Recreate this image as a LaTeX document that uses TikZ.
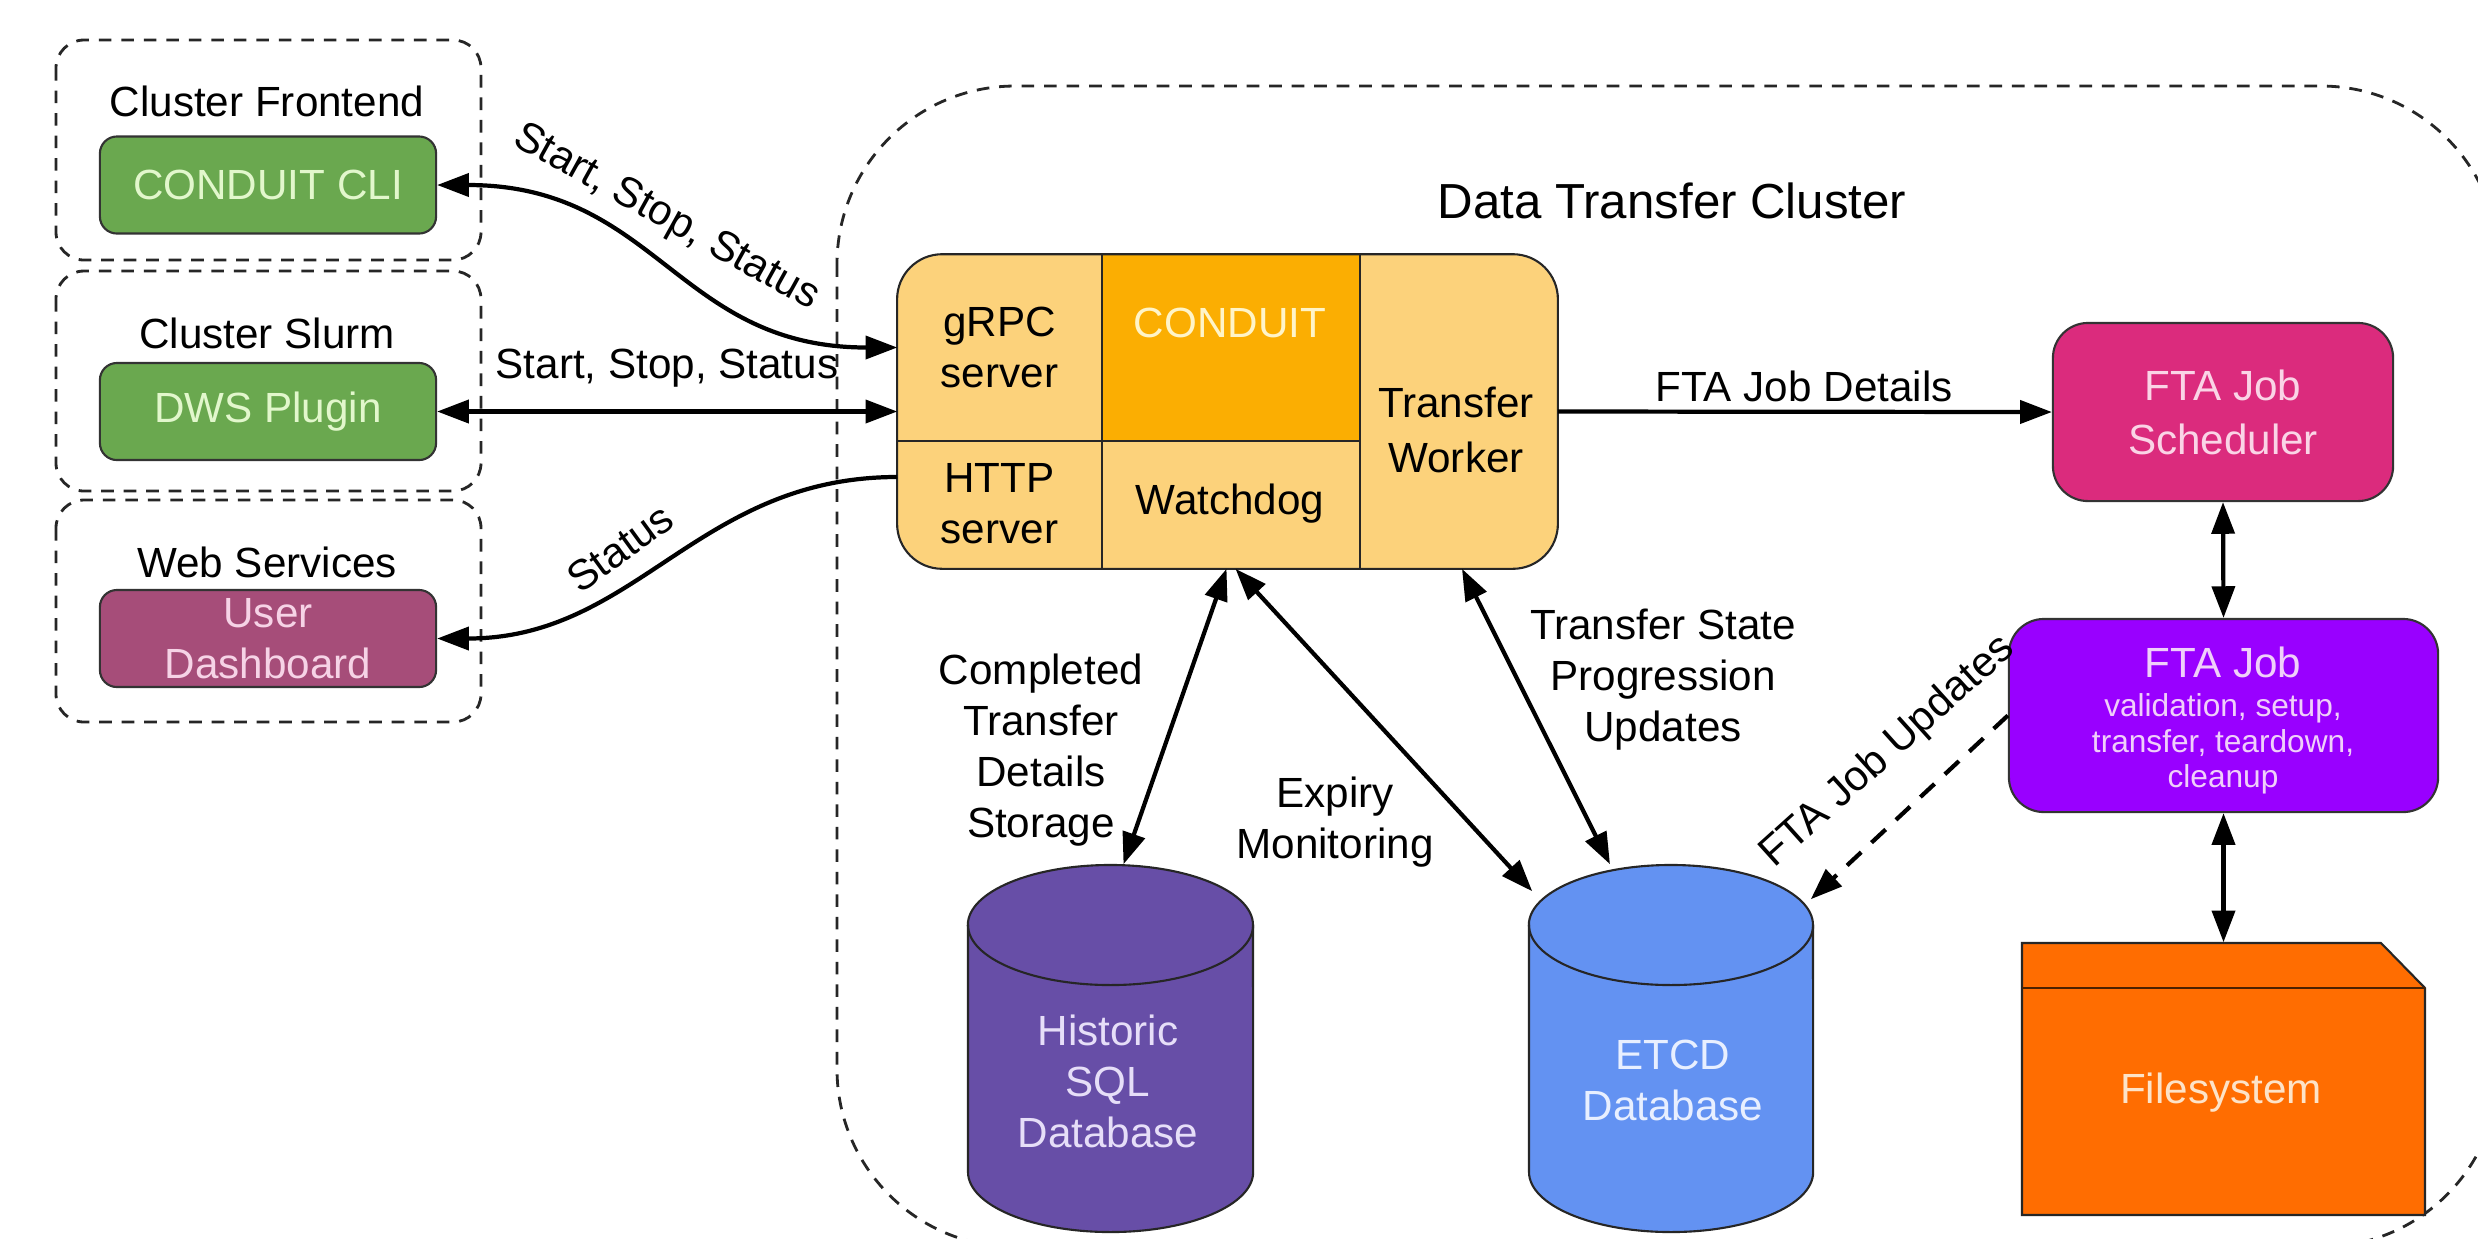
\documentclass[tikz,border=0pt]{standalone}
\usepackage{fontspec}
\setmainfont{Liberation Sans}
\usetikzlibrary{arrows.meta}
\definecolor{grnF}{HTML}{6AA84F}
\definecolor{grnT}{HTML}{E2F7CC}
\definecolor{dashF}{HTML}{A64D79}
\definecolor{dashT}{HTML}{F6D3E6}
\definecolor{coreF}{HTML}{FCD27B}
\definecolor{condF}{HTML}{FBAE02}
\definecolor{condT}{HTML}{FFF4C8}
\definecolor{schedF}{HTML}{DB2B7D}
\definecolor{schedT}{HTML}{FAD4E6}
\definecolor{jobF}{HTML}{9900FF}
\definecolor{jobT}{HTML}{F0CFFA}
\definecolor{histF}{HTML}{674EA7}
\definecolor{histT}{HTML}{E6DEF8}
\definecolor{etcdF}{HTML}{6392F2}
\definecolor{etcdT}{HTML}{E8EFFF}
\definecolor{fsF}{HTML}{FF6D01}
\definecolor{fsT}{HTML}{FDE3C8}
\begin{document}
\begin{tikzpicture}[x=0.01cm,y=-0.01cm,
  txt/.style={font=\fontsize{12}{14.5}\selectfont, align=center, inner sep=0pt},
  smalltxt/.style={font=\fontsize{9}{10.1}\selectfont, align=center, inner sep=0pt},
  grp/.style={draw=black!85, line width=0.8pt, dash pattern=on 3.6pt off 2.8pt, rounded corners=0.28cm},
  compbox/.style={txt, draw=black!80, line width=0.6pt, rounded corners=0.17cm, minimum width=3.36cm, minimum height=0.97cm},
  cell/.style={txt, minimum height=1.85cm},
  cellline/.style={draw=black!85, line width=0.6pt},
  outline/.style={draw=black!85, line width=0.6pt},
  ar/.style={line width=1.2pt, -{Triangle[length=9pt,width=6.5pt]}},
  biar/.style={line width=1.2pt, {Triangle[length=9pt,width=6.5pt]}-{Triangle[length=9pt,width=6.5pt]}},
  dasharr/.style={line width=1.2pt, dash pattern=on 5.5pt off 4pt, -{Triangle[length=9pt,width=6.5pt]}}
]
\clip (0,0) rectangle (2478,1238);
\fill[white] (0,0) rectangle (2478,1238);

% big cluster region
\draw[grp, rounded corners=1.78cm] (837,86) rectangle (2499,1247);
\node[txt, font=\fontsize{14}{16}\selectfont] (dtc) at (1672,201) {Data Transfer Cluster};

% left groups
\draw[grp] (56,40) rectangle (481,260);
\draw[grp] (56,271) rectangle (481,491);
\draw[grp] (56,500) rectangle (481,722);
\node[txt] (gfront) at (267,101) {Cluster Frontend};
\node[txt] (gslurm) at (267,333) {Cluster Slurm};
\node[txt] (gweb) at (267,562) {Web Services};
\node[compbox, fill=grnF, text=grnT] (cli) at (268,185) {CONDUIT CLI};
\node[compbox, fill=grnF, text=grnT] (dws) at (268,411.5) {DWS Plugin};
\node[compbox, fill=dashF, text=dashT] (dash) at (268,638.5) {User\\Dashboard};

% CONDUIT core
\node[fill=coreF, rounded corners=0.45cm, minimum width=6.59cm, minimum height=3.13cm, inner sep=0pt] (core) at (1227.5,411.5) {};
\node[cell, fill=condF, minimum width=2.58cm] (conduit) at (1230,347.5) {};
\node[cell, minimum width=2.03cm] (grpc) at (999.5,347.5) {gRPC\\server};
\node[cell, minimum width=2.03cm, minimum height=1.28cm] (http) at (999.5,504) {HTTP\\server};
\node[cell, minimum width=2.58cm, minimum height=1.28cm] (watchdog) at (1230,504) {\raisebox{-0.12cm}{Watchdog}};
\node[cell, minimum width=1.98cm, minimum height=3.13cm] (worker) at (1458,411.5) {};
\node[txt, text=condT] (condlbl) at (1230,323) {CONDUIT};
\node[txt, font=\fontsize{12}{15.6}\selectfont] (workerlbl) at (1456,430) {Transfer\\Worker};
\draw[cellline] (grpc.north east) -- (http.south east);
\draw[cellline] (conduit.north east) -- (watchdog.south east);
\draw[cellline] (grpc.south west) -- (conduit.south east);
\draw[outline, rounded corners=0.45cm] (core.south west) rectangle (core.north east);

% right side
\node[txt, fill=schedF, text=schedT, draw=black!80, line width=0.6pt, rounded corners=0.35cm, minimum width=3.4cm, minimum height=1.78cm, font=\fontsize{12}{15.4}\selectfont] (sched) at (2223,412) {FTA Job\\Scheduler};
\node[fill=jobF, draw=black!80, line width=0.6pt, rounded corners=0.35cm, minimum width=4.29cm, minimum height=1.93cm, inner sep=0pt] (ftajob) at (2223.5,715.5) {};
\node[txt, text=jobT] (jobtitle) at (2223,662) {FTA Job};
\node[smalltxt, text=jobT] (jobsteps) at (2223,744) {validation, setup,\\transfer, teardown,\\cleanup};

% filesystem
\filldraw[fill=fsF, draw=black!85, line width=0.6pt] (2022,943) -- (2381,943) -- (2425,988) -- (2425,1215) -- (2022,1215) -- cycle;
\draw[draw=black!70!fsF, line width=0.8pt] (2022,988) -- (2425,988);
\node[minimum width=4.03cm, minimum height=2.72cm, inner sep=0pt] (fs) at (2223.5,1079) {};
\node[txt, text=fsT] (fslbl) at (2221,1093) {Filesystem};

% cylinders
\filldraw[fill=histF, draw=black!85, line width=0.6pt] (968,925) -- (968,1172) arc[start angle=180,end angle=360,x radius=1.425cm,y radius=0.6cm] -- (1253,925) arc[start angle=0,end angle=180,x radius=1.425cm,y radius=0.6cm] -- cycle;
\draw[black!85, line width=0.6pt] (968,925) arc[start angle=180,end angle=360,x radius=1.425cm,y radius=0.6cm];
\node[minimum width=2.85cm, minimum height=3.67cm, inner sep=0pt] (hist) at (1110.5,1048.5) {};
\node[txt, text=histT] (histlbl) at (1108,1081) {Historic\\SQL\\Database};

\filldraw[fill=etcdF, draw=black!85, line width=0.6pt] (1529,925) -- (1529,1172) arc[start angle=180,end angle=360,x radius=1.42cm,y radius=0.6cm] -- (1813,925) arc[start angle=0,end angle=180,x radius=1.42cm,y radius=0.6cm] -- cycle;
\draw[black!85, line width=0.6pt] (1529,925) arc[start angle=180,end angle=360,x radius=1.42cm,y radius=0.6cm];
\node[minimum width=2.84cm, minimum height=3.67cm, inner sep=0pt] (etcd) at (1671,1048.5) {};
\node[txt, text=etcdT] (etcdlbl) at (1673,1080) {ETCD\\Database};

% connectors
\draw[biar] (cli.east) .. controls +(220,0) and +(-220,0) .. (grpc.west);
\node[txt, rotate=-29] (l1) at (666,218) {Start, Stop, Status};
\draw[biar] (dws.east) -- (dws.east -| grpc.west);
\node[txt] (l2) at (667,368) {Start, Stop, Status};
\draw[ar] ([yshift=0.27cm]http.west) .. controls +(-200,0) and +(200,0) .. (dash.east);
\node[txt, rotate=36] (l3) at (620,548) {Status};

\draw[ar] (worker.east) -- (sched.west);
\node[txt] (l4) at (1804,386) {FTA Job Details};
\draw[biar] (sched.south) -- (ftajob.north);
\draw[biar] (ftajob.south) -- (fs.north);

\draw[biar] ([xshift=-0.01cm]core.south) -- ([xshift=0.13cm]hist.north);
\node[txt] (l5) at (1041,750) {Completed\\Transfer\\Details\\Storage};
\draw[biar] ([xshift=0.08cm]core.south) -- ([shift={(0.04cm,-0.27cm)}]etcd.north west);
\node[txt] (l6) at (1335,822) {Expiry\\Monitoring};
\draw[biar] ([xshift=0.04cm]worker.south) -- ([xshift=-0.61cm]etcd.north);
\node[txt] (l7) at (1663,680) {Transfer State\\Progression\\Updates};
\draw[dasharr] (ftajob.west) -- ([shift={(-0.03cm,-0.35cm)}]etcd.north east);
\node[txt, rotate=42] (l8) at (1888,752) {FTA Job Updates};
\end{tikzpicture}
\end{document}
